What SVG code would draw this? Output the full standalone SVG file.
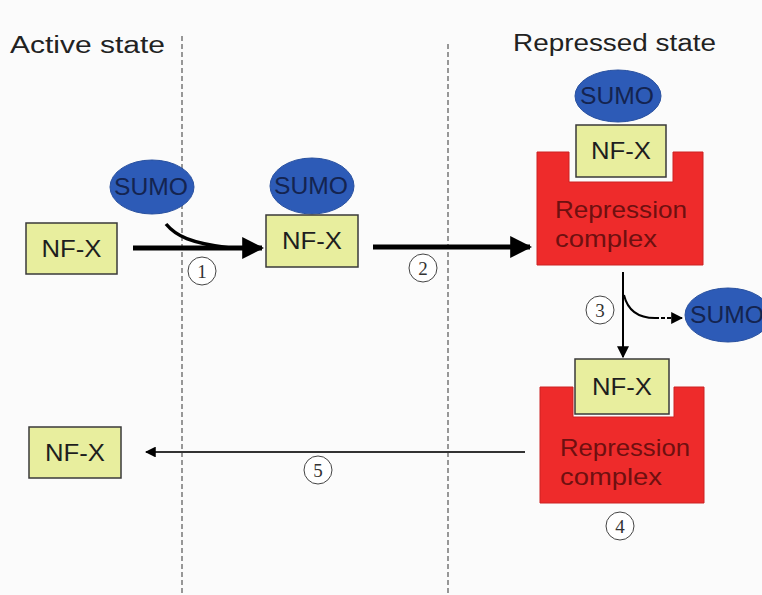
<svg xmlns="http://www.w3.org/2000/svg" width="762" height="595" viewBox="0 0 762 595">
<defs>
<style>
.box{fill:#e8ee9e;stroke:#3a3a3a;stroke-width:1.5}
.nfx{font-family:"Liberation Sans",Arial,sans-serif;font-size:24px;fill:#1e1e1e;text-anchor:middle}
.sumo{fill:#2d5bb7;stroke:#28509f;stroke-width:1}
.sumot{font-family:"Liberation Sans",Arial,sans-serif;font-size:23px;fill:#142450;text-anchor:middle}
.rep{fill:#ee2b2b;stroke:#c22;stroke-width:1}
.rept{font-family:"Liberation Sans",Arial,sans-serif;font-size:24px;fill:#6e1010}
.title{font-family:"Liberation Sans",Arial,sans-serif;font-size:23px;fill:#222}
.dash{stroke:#555;stroke-width:1.2;stroke-dasharray:5 3;fill:none}
.num{fill:#fff;stroke:#444;stroke-width:1}
.numt{font-family:"Liberation Serif","Times New Roman",serif;font-size:19px;fill:#333;text-anchor:middle}
</style>
<marker id="bigHead" viewBox="0 0 10 10" refX="9" refY="5" markerWidth="4.4" markerHeight="4.4" orient="auto" markerUnits="strokeWidth"><path d="M0,0 L10,5 L0,10 Z" fill="#000"/></marker>
<marker id="smallHead" viewBox="0 0 10 10" refX="9" refY="5" markerWidth="6" markerHeight="6" orient="auto" markerUnits="strokeWidth"><path d="M0,0 L10,5 L0,10 Z" fill="#000"/></marker>
</defs>
<rect width="762" height="595" fill="#fbfbfb"/>
<text class="title" x="10" y="53" textLength="155" lengthAdjust="spacingAndGlyphs">Active  state</text>
<text class="title" x="513" y="51" textLength="203" lengthAdjust="spacingAndGlyphs">Repressed state</text>
<line class="dash" x1="182" y1="36" x2="182" y2="595"/>
<line class="dash" x1="448" y1="44" x2="448" y2="595"/>

<g id="connectors">
<line x1="133" y1="248" x2="262" y2="248" stroke="#000" stroke-width="5" marker-end="url(#bigHead)"/>
<path d="M166,224 C176,236 190,243 230,248" stroke="#000" stroke-width="3.5" fill="none"/>
<line x1="373" y1="247" x2="530" y2="247" stroke="#000" stroke-width="5" marker-end="url(#bigHead)"/>
<line x1="623" y1="272" x2="623" y2="357" stroke="#000" stroke-width="2" marker-end="url(#smallHead)"/>
<path d="M624,295 C628,312 640,318 655,318" stroke="#000" stroke-width="2" fill="none"/>
<path d="M655,318 L682,318" stroke="#000" stroke-width="2" stroke-dasharray="4 2" fill="none" marker-end="url(#smallHead)"/>
<line x1="525" y1="452" x2="146" y2="452" stroke="#333" stroke-width="1.8" marker-end="url(#smallHead)"/>
</g>

<g id="step1"><circle class="num" cx="202" cy="271" r="14"/><text class="numt" x="202" y="278">1</text></g>
<g id="step2"><circle class="num" cx="423" cy="268" r="14"/><text class="numt" x="423" y="275">2</text></g>
<g id="step3"><circle class="num" cx="600" cy="310" r="14"/><text class="numt" x="600" y="317">3</text></g>
<g id="step4"><circle class="num" cx="620" cy="526" r="14"/><text class="numt" x="620" y="533">4</text></g>
<g id="step5"><circle class="num" cx="318" cy="470" r="14"/><text class="numt" x="318" y="477">5</text></g>

<g id="nfx1"><rect class="box" x="26" y="223" width="91" height="51"/><text class="nfx" x="71.5" y="257" textLength="60" lengthAdjust="spacingAndGlyphs">NF-X</text></g>
<g id="sumo1"><ellipse class="sumo" cx="152" cy="187" rx="42" ry="27"/><text class="sumot" x="151" y="195" textLength="74" lengthAdjust="spacingAndGlyphs">SUMO</text></g>

<g id="sumo2"><ellipse class="sumo" cx="312" cy="186" rx="42" ry="28"/><text class="sumot" x="311" y="194" textLength="74" lengthAdjust="spacingAndGlyphs">SUMO</text></g>
<g id="nfx2"><rect class="box" x="266" y="215" width="92" height="52"/><text class="nfx" x="312" y="249" textLength="60" lengthAdjust="spacingAndGlyphs">NF-X</text></g>

<g id="complex1">
<path class="rep" d="M537,152 H569 V182 H673 V152 H703 V265 H537 Z"/>
<text class="rept" x="555" y="218" textLength="132" lengthAdjust="spacingAndGlyphs">Repression</text>
<text class="rept" x="555" y="247" textLength="102" lengthAdjust="spacingAndGlyphs">complex</text>
</g>
<g id="nfx3"><rect class="box" x="576" y="125" width="90" height="52"/><text class="nfx" x="621" y="159" textLength="60" lengthAdjust="spacingAndGlyphs">NF-X</text></g>
<g id="sumo3"><ellipse class="sumo" cx="618" cy="96" rx="43" ry="26"/><text class="sumot" x="617" y="104" textLength="74" lengthAdjust="spacingAndGlyphs">SUMO</text></g>

<g id="sumo4"><ellipse class="sumo" cx="728" cy="315" rx="43" ry="27"/><text class="sumot" x="727" y="323" textLength="74" lengthAdjust="spacingAndGlyphs">SUMO</text></g>

<g id="complex2">
<path class="rep" d="M540,387 H573 V417 H674 V387 H704 V503 H540 Z"/>
<text class="rept" x="560" y="456" textLength="130" lengthAdjust="spacingAndGlyphs">Repression</text>
<text class="rept" x="560" y="485" textLength="102" lengthAdjust="spacingAndGlyphs">complex</text>
</g>
<g id="nfx4"><rect class="box" x="575" y="359" width="94" height="55"/><text class="nfx" x="622" y="395" textLength="60" lengthAdjust="spacingAndGlyphs">NF-X</text></g>

<g id="nfx5"><rect class="box" x="29" y="427" width="92" height="51"/><text class="nfx" x="75" y="461" textLength="60" lengthAdjust="spacingAndGlyphs">NF-X</text></g>
</svg>
